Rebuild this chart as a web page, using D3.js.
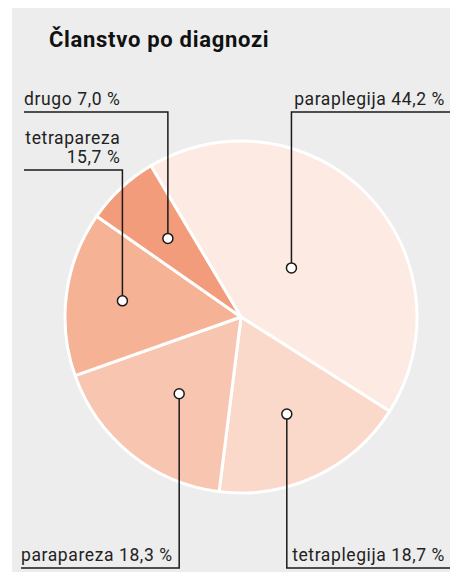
<!DOCTYPE html>
<html>
<head>
<meta charset="utf-8">
<script src="https://cdn.jsdelivr.net/npm/d3@7"></script>
<style>
  body { margin: 0; background: #fff; }
  text { font-family: Roboto, "Noto Sans", sans-serif; fill: #222; }
</style>
</head>
<body>
<div class="chart"></div>
<script>
const title = 'Članstvo po diagnozi'

const categories = ['paraplegija', 'tetraplegija', 'parapareza', 'tetrapareza', 'drugo']
const values = [44.2, 18.7, 18.3, 15.7, 7.0]
const valueLabels = ['44,2 %', '18,7 %', '18,3 %', '15,7 %', '7,0 %']
const colors = ['#fdeae2', '#fad9ca', '#f8c6b0', '#f5b295', '#f29c7c']

const width = 450
const height = 572
const cx = 241
const cy = 317
const radius = 176

// where each callout sits: dot distance (share of radius), side and line height
const callouts = [
  { r: 0.40, side: 'right', lineY: 112, lines: ['paraplegija 44,2 %'] },
  { r: 0.61, side: 'right', lineY: 568, lines: ['tetraplegija 18,7 %'] },
  { r: 0.56, side: 'left', lineY: 568, edge: 21, lines: ['parapareza 18,3 %'] },
  { r: 0.68, side: 'left', lineY: 170, edge: 24, lines: ['tetrapareza', '15,7 %'], alignEnd: true },
  { r: 0.61, side: 'left', lineY: 112, edge: 24, lines: ['drugo 7,0 %'] }
]

let svg = d3.select('.chart')
  .append('svg')
  .attr('width', width)
  .attr('height', height)

svg.append('rect')
  .attr('x', 12)
  .attr('y', 8)
  .attr('width', width - 12)
  .attr('height', height - 8)
  .attr('fill', '#ecedec')

svg.append('text')
  .attr('x', 49)
  .attr('y', 47)
  .style('font-size', '22px')
  .style('font-weight', 'bold')
  .style('letter-spacing', '0.7px')
  .style('fill', '#111')
  .text(title)

let data = categories.map((c, i) => ({ name: c, value: values[i], label: valueLabels[i], color: colors[i], co: callouts[i] }))

let startA = -30.8 * Math.PI / 180
let pie = d3.pie()
  .sort(null)
  .value(d => d.value)
  .startAngle(startA)
  .endAngle(startA + 2 * Math.PI)

let arc = d3.arc().innerRadius(0).outerRadius(radius)

let g = svg.append('g').attr('transform', 'translate(' + cx + ',' + cy + ')')

let arcs = pie(data)

g.selectAll('path')
  .data(arcs)
  .enter().append('path')
  .attr('d', arc)
  .attr('fill', d => d.data.color)
  .attr('stroke', '#fff')
  .attr('stroke-width', 3)
  .attr('stroke-linejoin', 'round')

// callouts
arcs.forEach((d) => {
  let co = d.data.co
  let r = radius * co.r
  let p = d3.arc().innerRadius(r).outerRadius(r).centroid(d)
  let x = cx + p[0]
  let y = cy + p[1]
  let edgeX = co.side === 'right' ? width : co.edge

  svg.append('path')
    .attr('d', 'M' + x + ',' + y + 'V' + co.lineY + 'H' + edgeX)
    .attr('fill', 'none')
    .attr('stroke', '#1a1a1a')
    .attr('stroke-width', 1.5)

  svg.append('circle')
    .attr('cx', x)
    .attr('cy', y)
    .attr('r', 5)
    .attr('fill', '#fff')
    .attr('stroke', '#1a1a1a')
    .attr('stroke-width', 1.5)

  let tx, anchor
  if (co.side === 'right') { tx = width - 5; anchor = 'end' }
  else if (co.alignEnd) { tx = x - 2; anchor = 'end' }
  else { tx = edgeX; anchor = 'start' }

  co.lines.forEach((t, i) => {
    svg.append('text')
      .attr('x', tx)
      .attr('y', co.lineY - 7 - (co.lines.length - 1 - i) * 19.5)
      .attr('text-anchor', anchor)
      .style('font-size', '17.5px')
      .style('letter-spacing', '0.6px')
      .text(t)
  })
})
</script>
</body>
</html>
